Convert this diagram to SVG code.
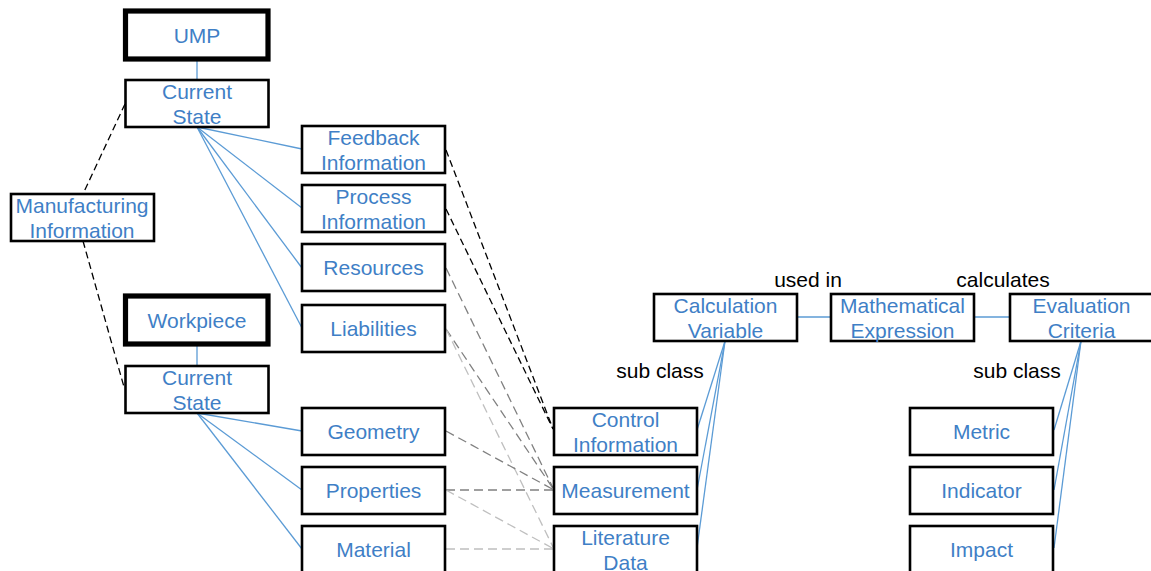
<svg xmlns="http://www.w3.org/2000/svg" width="1151" height="571" viewBox="0 0 1151 571">
  <style>
    .box { fill: #ffffff; stroke: #000000; stroke-width: 2.6; }
    .root { fill: #ffffff; stroke: #000000; stroke-width: 5.2; }
    .lbl { font-family: "Liberation Sans", Arial, sans-serif; font-size: 21px; fill: #3f7fc6; text-anchor: middle; }
    .note { font-family: "Liberation Sans", Arial, sans-serif; font-size: 21px; fill: #000000; text-anchor: middle; }
    .rel { stroke: #5b9bd5; stroke-width: 1.3; fill: none; }
    .dk { stroke: #000000; stroke-width: 1.3; stroke-dasharray: 7 4; fill: none; }
    .md { stroke: #808080; stroke-width: 1.3; stroke-dasharray: 9 5; fill: none; }
    .lt { stroke: #bfbfbf; stroke-width: 1.3; stroke-dasharray: 9 5; fill: none; }
  </style>

  <!-- connectors -->
  <g id="connectors">
    <!-- UMP side -->
    <line class="rel" x1="197" y1="61" x2="197" y2="80"/>
    <line class="rel" x1="197" y1="127" x2="302" y2="149"/>
    <line class="rel" x1="197" y1="127" x2="302" y2="208"/>
    <line class="rel" x1="197" y1="127" x2="302" y2="268"/>
    <line class="rel" x1="197" y1="127" x2="302" y2="328"/>
    <!-- workpiece side -->
    <line class="rel" x1="197" y1="343" x2="197" y2="366"/>
    <line class="rel" x1="197" y1="413" x2="302" y2="431"/>
    <line class="rel" x1="197" y1="413" x2="302" y2="490"/>
    <line class="rel" x1="197" y1="413" x2="302" y2="549"/>
    <!-- manufacturing information links -->
    <line class="dk" x1="125" y1="104" x2="83" y2="194"/>
    <line class="dk" x1="83" y1="241" x2="124" y2="387"/>
    <!-- data sources -->
    <line class="dk" x1="446" y1="150" x2="553" y2="429"/>
    <line class="dk" x1="446" y1="209" x2="553" y2="429"/>
    <line class="md" x1="446" y1="268" x2="554" y2="490"/>
    <line class="md" x1="446" y1="329" x2="554" y2="490"/>
    <line class="lt" x1="446" y1="329" x2="554" y2="549"/>
    <line class="md" x1="446" y1="431" x2="554" y2="490"/>
    <line class="md" x1="446" y1="490" x2="554" y2="490"/>
    <line class="lt" x1="446" y1="490" x2="554" y2="549"/>
    <line class="lt" x1="446" y1="549" x2="554" y2="549"/>
    <!-- calculation chain -->
    <line class="rel" x1="797" y1="317" x2="831" y2="317"/>
    <line class="rel" x1="974" y1="317" x2="1010" y2="317"/>
    <line class="rel" x1="725" y1="341" x2="697" y2="430"/>
    <line class="rel" x1="725" y1="341" x2="697" y2="490"/>
    <line class="rel" x1="725" y1="341" x2="697" y2="548"/>
    <line class="rel" x1="1081" y1="341" x2="1054" y2="430"/>
    <line class="rel" x1="1081" y1="341" x2="1054" y2="490"/>
    <line class="rel" x1="1081" y1="341" x2="1054" y2="548"/>
  </g>

  <!-- relation labels -->
  <text class="note" x="808" y="287">used in</text>
  <text class="note" x="1003" y="287">calculates</text>
  <text class="note" x="660" y="378">sub class</text>
  <text class="note" x="1017" y="378">sub class</text>

  <g id="ump">
    <rect class="root" x="125.5" y="11" width="142.5" height="48"/>
    <text class="lbl" x="197" y="43">UMP</text>
  </g>
  <g id="ump-state">
    <rect class="box" x="125.5" y="80" width="143" height="47"/>
    <text class="lbl" x="197" y="99">Current</text>
    <text class="lbl" x="197" y="124">State</text>
  </g>
  <g id="manufacturing-info">
    <rect class="box" x="11" y="194" width="143" height="47"/>
    <text class="lbl" x="82" y="213">Manufacturing</text>
    <text class="lbl" x="82" y="238">Information</text>
  </g>
  <g id="workpiece">
    <rect class="root" x="125.5" y="296" width="142.5" height="48"/>
    <text class="lbl" x="197" y="328">Workpiece</text>
  </g>
  <g id="workpiece-state">
    <rect class="box" x="125.5" y="366" width="143" height="47"/>
    <text class="lbl" x="197" y="385">Current</text>
    <text class="lbl" x="197" y="410">State</text>
  </g>

  <g id="feedback-info">
    <rect class="box" x="302" y="126" width="143" height="47"/>
    <text class="lbl" x="373.5" y="145">Feedback</text>
    <text class="lbl" x="373.5" y="170">Information</text>
  </g>
  <g id="process-info">
    <rect class="box" x="302" y="185" width="143" height="47"/>
    <text class="lbl" x="373.5" y="204">Process</text>
    <text class="lbl" x="373.5" y="229">Information</text>
  </g>
  <g id="resources">
    <rect class="box" x="302" y="244" width="143" height="47"/>
    <text class="lbl" x="373.5" y="275">Resources</text>
  </g>
  <g id="liabilities">
    <rect class="box" x="302" y="305" width="143" height="47"/>
    <text class="lbl" x="373.5" y="336">Liabilities</text>
  </g>
  <g id="geometry">
    <rect class="box" x="302" y="408" width="143" height="47"/>
    <text class="lbl" x="373.5" y="439">Geometry</text>
  </g>
  <g id="properties">
    <rect class="box" x="302" y="467" width="143" height="47"/>
    <text class="lbl" x="373.5" y="498">Properties</text>
  </g>
  <g id="material">
    <rect class="box" x="302" y="526" width="143" height="47"/>
    <text class="lbl" x="373.5" y="557">Material</text>
  </g>

  <g id="control-info">
    <rect class="box" x="554" y="408" width="143" height="47"/>
    <text class="lbl" x="625.5" y="427">Control</text>
    <text class="lbl" x="625.5" y="452">Information</text>
  </g>
  <g id="measurement">
    <rect class="box" x="554" y="467" width="143" height="47"/>
    <text class="lbl" x="625.5" y="498">Measurement</text>
  </g>
  <g id="literature-data">
    <rect class="box" x="554" y="526" width="143" height="47"/>
    <text class="lbl" x="625.5" y="545">Literature</text>
    <text class="lbl" x="625.5" y="570">Data</text>
  </g>

  <g id="calculation-variable">
    <rect class="box" x="654" y="294" width="143" height="47"/>
    <text class="lbl" x="725.5" y="313">Calculation</text>
    <text class="lbl" x="725.5" y="338">Variable</text>
  </g>
  <g id="mathematical-expression">
    <rect class="box" x="831" y="294" width="143" height="47"/>
    <text class="lbl" x="902.5" y="313">Mathematical</text>
    <text class="lbl" x="902.5" y="338">Expression</text>
  </g>
  <g id="evaluation-criteria">
    <rect class="box" x="1010" y="294" width="143" height="47"/>
    <text class="lbl" x="1081.5" y="313">Evaluation</text>
    <text class="lbl" x="1081.5" y="338">Criteria</text>
  </g>
  <g id="metric">
    <rect class="box" x="910" y="408" width="143" height="47"/>
    <text class="lbl" x="981.5" y="439">Metric</text>
  </g>
  <g id="indicator">
    <rect class="box" x="910" y="467" width="143" height="47"/>
    <text class="lbl" x="981.5" y="498">Indicator</text>
  </g>
  <g id="impact">
    <rect class="box" x="910" y="526" width="143" height="47"/>
    <text class="lbl" x="981.5" y="557">Impact</text>
  </g>
</svg>
